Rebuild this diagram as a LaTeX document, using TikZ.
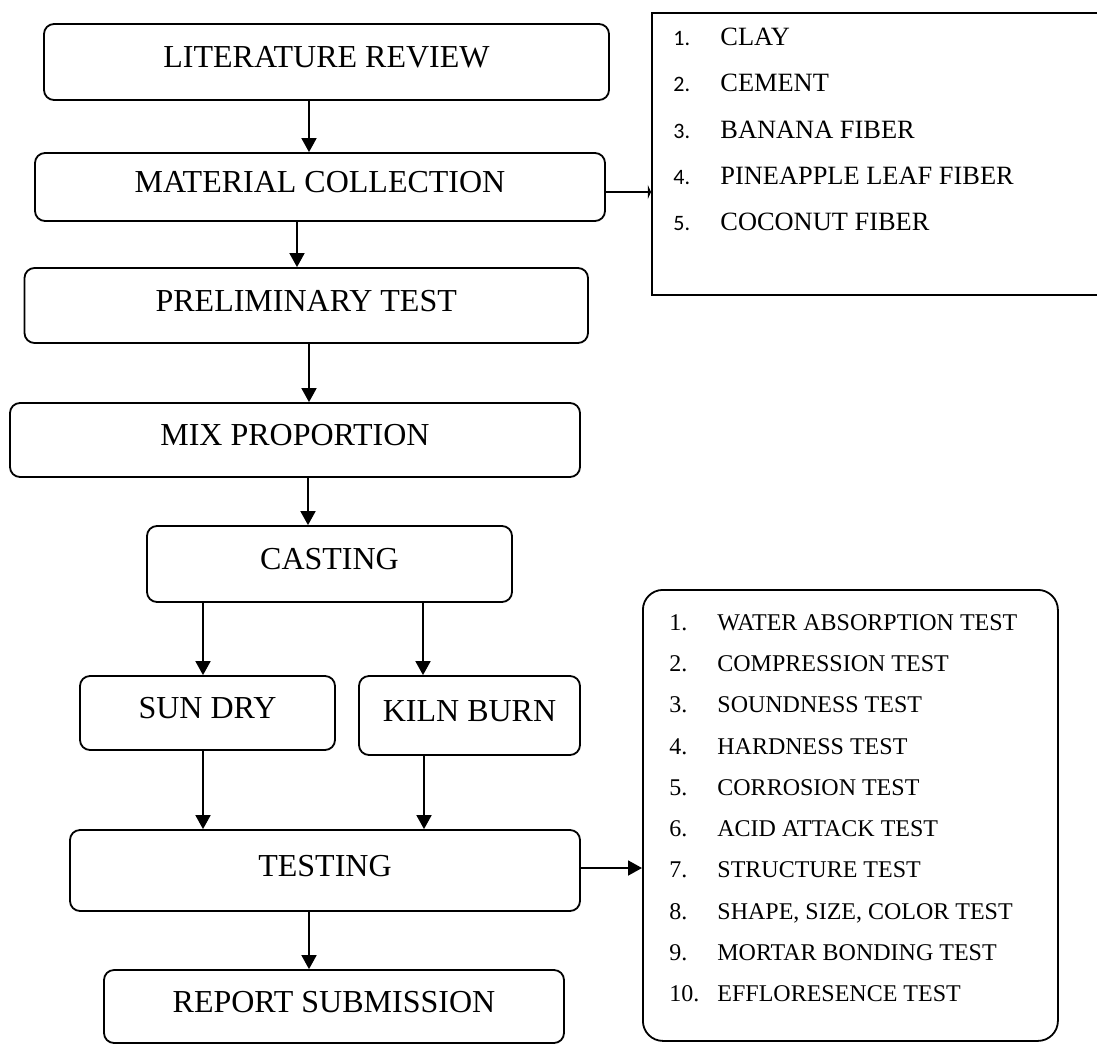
\documentclass[tikz,border=0pt]{standalone}
\usepackage{fontspec}
\setmainfont{Liberation Serif}
\newfontfamily\numfont{Carlito}
\usetikzlibrary{arrows.meta}
\begin{document}
\begin{tikzpicture}[x=0.5pt,y=-0.5pt,
  box/.style={draw, line width=0.9pt, rounded corners=5pt, inner sep=0pt,
    font=\fontsize{16}{19}\selectfont, text height=11pt, text depth=5.4pt},
  arr/.style={line width=0.9pt, -{Triangle[length=7pt,width=7.5pt]}},
  smallarr/.style={line width=0.9pt, -{Triangle[length=1.6pt,width=7pt]}},
  itemA/.style={anchor=base west, inner sep=0pt, font=\fontsize{13.2}{15}\selectfont},
  numA/.style={anchor=base west, inner sep=0pt, font=\numfont\fontsize{11}{13}\selectfont},
  itemB/.style={anchor=base west, inner sep=0pt, font=\fontsize{12}{14}\selectfont},
  listbox/.style={draw, line width=0.9pt, inner sep=0pt}]
\useasboundingbox (0,0) rectangle (1097,1045);
\clip (0,0) rectangle (1097,1045);

% main flow boxes
\node[box, minimum width=282.5pt, minimum height=38pt] (lit)  at (326.5,62)   {LITERATURE REVIEW};
\node[box, minimum width=285pt,   minimum height=34pt] (mat)  at (320,187)    {MATERIAL COLLECTION};
\node[box, minimum width=281.75pt,minimum height=37.5pt] (pre) at (306.25,305.5) {PRELIMINARY TEST};
\node[box, minimum width=285pt,   minimum height=37pt] (mix)  at (295,440)    {MIX PROPORTION};
\node[box, minimum width=182.5pt, minimum height=38pt] (cast) at (329.5,564)  {CASTING};
\node[box, minimum width=127.5pt, minimum height=37pt] (sun)  at (207.5,713)  {SUN DRY};
\node[box, minimum width=110.5pt, minimum height=39.5pt] (kiln) at (469.5,715.5) {KILN BURN};
\node[box, minimum width=255pt,   minimum height=40.5pt] (test) at (325,870.5)  {TESTING};
\node[box, minimum width=230pt,   minimum height=36.5pt] (rep)  at (334,1006.5) {REPORT SUBMISSION};

% material list (open on the right)
\node[listbox, minimum width=235pt, minimum height=141pt, anchor=north west] (mlist) at (651,12) {};
\foreach \n/\t [count=\k] in {1./CLAY, 2./CEMENT, 3./BANANA FIBER, 4./PINEAPPLE LEAF FIBER, 5./COCONUT FIBER}{
  \node[numA]  (mn\k) at (673,{45.6+46.25*(\k-1)}) {\n};
  \node[itemA] (mt\k) at (720,{45.6+46.25*(\k-1)}) {\t};
}

% test list
\node[listbox, rounded corners=10pt, minimum width=207.5pt, minimum height=225.5pt, anchor=north west] (tlist) at (642,589) {};
\foreach \n/\t [count=\k] in {1./WATER ABSORPTION TEST, 2./COMPRESSION TEST, 3./SOUNDNESS TEST,
  4./HARDNESS TEST, 5./CORROSION TEST, 6./ACID ATTACK TEST, 7./STRUCTURE TEST,
  8./{SHAPE, SIZE, COLOR TEST}, 9./MORTAR BONDING TEST, 10./EFFLORESENCE TEST}{
  \node[itemB] (tn\k) at (669,{630+41.33*(\k-1)}) {\n};
  \node[itemB] (tt\k) at (717,{630+41.33*(\k-1)}) {\t};
}

% connectors
\draw[arr] (309,0 |- lit.south)  -- (309,0 |- mat.north);
\draw[arr] (297,0 |- mat.south)  -- (297,0 |- pre.north);
\draw[arr] (309,0 |- pre.south)  -- (309,0 |- mix.north);
\draw[arr] (308,0 |- mix.south)  -- (308,0 |- cast.north);
\draw[arr] (203,0 |- cast.south) -- (203,0 |- sun.north);
\draw[arr] (423,0 |- cast.south) -- (423,0 |- kiln.north);
\draw[arr] (203,0 |- sun.south)  -- (203,0 |- test.north);
\draw[arr] (424,0 |- kiln.south) -- (424,0 |- test.north);
\draw[arr] (309,0 |- test.south) -- (309,0 |- rep.north);
\draw[smallarr] (mat.east |- 0,192) -- (mlist.west |- 0,192);
\draw[arr] (test.east |- 0,868) -- (tlist.west |- 0,868);
\end{tikzpicture}
\end{document}
